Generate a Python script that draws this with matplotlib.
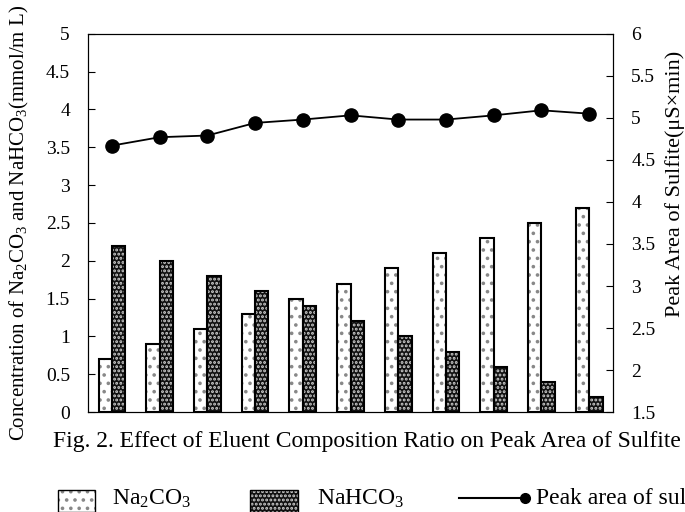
import matplotlib.pyplot as plt
import numpy as np
from matplotlib.patches import Rectangle
from matplotlib.lines import Line2D

plt.rcParams['font.family'] = ['Liberation Serif', 'DejaVu Serif']
plt.rcParams['mathtext.fontset'] = 'custom'
plt.rcParams['mathtext.rm'] = 'Liberation Serif'
plt.rcParams['mathtext.it'] = 'Liberation Serif'
plt.rcParams['hatch.linewidth'] = 1.4

na2co3 = [0.7, 0.9, 1.1, 1.3, 1.5, 1.7, 1.9, 2.1, 2.3, 2.5, 2.7]
nahco3 = [2.2, 2.0, 1.8, 1.6, 1.4, 1.2, 1.0, 0.8, 0.6, 0.4, 0.2]
peak_area = [4.67, 4.77, 4.79, 4.94, 4.98, 5.03, 4.98, 4.98, 5.03, 5.09, 5.05]

x = np.arange(len(na2co3))
w = 0.28

light = dict(facecolor='white', edgecolor='#888888', hatch='..', linewidth=0)
dark = dict(facecolor='#111111', edgecolor='#d0d0d0', hatch='....', linewidth=0)

fig = plt.figure(figsize=(6.85, 5.12), dpi=100)
ax = fig.add_axes([0.1285, 0.195, 0.7665, 0.739])

ax.bar(x - w/2, na2co3, w, **light)
ax.bar(x - w/2, na2co3, w, fill=False, edgecolor='black', linewidth=1.5)
ax.bar(x + w/2, nahco3, w, **dark)
ax.bar(x + w/2, nahco3, w, fill=False, edgecolor='black', linewidth=1.5)

ax.set_xlim(-0.5, len(x) - 0.5)
ax.set_ylim(0, 5)
ax.set_yticks(np.arange(0, 5.01, 0.5))
ax.set_yticklabels(['0', '0.5', '1', '1.5', '2', '2.5', '3', '3.5', '4', '4.5', '5'])
ax.set_xticks([])
ax.tick_params(axis='y', direction='in', length=5, labelsize=14, pad=13)
ax.set_ylabel('Concentration of Na$_2$CO$_3$ and NaHCO$_3$(mmol/m L)', fontsize=15)
ax.yaxis.set_label_coords(-0.13, 0.5)
ax.yaxis.label.set_va('center')

ax2 = ax.twinx()
ax2.plot(x, peak_area, color='black', marker='o', markersize=9.5, linewidth=1.3)
ax2.set_ylim(1.5, 6)
ax2.set_yticks(np.arange(1.5, 6.01, 0.5))
ax2.set_yticklabels(['1.5', '2', '2.5', '3', '3.5', '4', '4.5', '5', '5.5', '6'])
ax2.tick_params(axis='y', direction='in', length=5, labelsize=14, pad=13)
ax2.set_ylabel('Peak Area of Sulfite(μS×min)', fontsize=16)
ax2.yaxis.set_label_coords(1.118, 0.603)
ax2.yaxis.label.set_va('center')

fig.text(0.535, 1 - 441/512, 'Fig. 2. Effect of Eluent Composition Ratio on Peak Area of Sulfite',
         ha='center', va='center', fontsize=17)

# legend drawn in figure pixels
W, H = 685.0, 512.0
def fx(px):
    return px / W
def fy(py):
    return 1 - py / H

fig.add_artist(Rectangle((fx(58), fy(512)), fx(95) - fx(58), fy(490) - fy(512),
                         transform=fig.transFigure, **light))
fig.add_artist(Rectangle((fx(58), fy(512)), fx(95) - fx(58), fy(490) - fy(512),
                         transform=fig.transFigure, fill=False, edgecolor='black', linewidth=1.0))
fig.text(fx(112), fy(499), 'Na$_2$CO$_3$', ha='left', va='center', fontsize=17)

fig.add_artist(Rectangle((fx(250), fy(512)), fx(298) - fx(250), fy(490) - fy(512),
                         transform=fig.transFigure, **dark))
fig.add_artist(Rectangle((fx(250), fy(512)), fx(298) - fx(250), fy(490) - fy(512),
                         transform=fig.transFigure, fill=False, edgecolor='black', linewidth=1.0))
fig.text(fx(317), fy(499), 'NaHCO$_3$', ha='left', va='center', fontsize=17)

fig.add_artist(Line2D([fx(459), fx(525)], [fy(498), fy(498)], transform=fig.transFigure,
                      color='black', linewidth=1.5))
fig.add_artist(Line2D([fx(525)], [fy(498)], transform=fig.transFigure,
                      color='black', marker='o', markersize=7))
fig.text(fx(536), fy(499), 'Peak area of sulfite', ha='left', va='center', fontsize=17)

fig.savefig('out.png', dpi=100)
